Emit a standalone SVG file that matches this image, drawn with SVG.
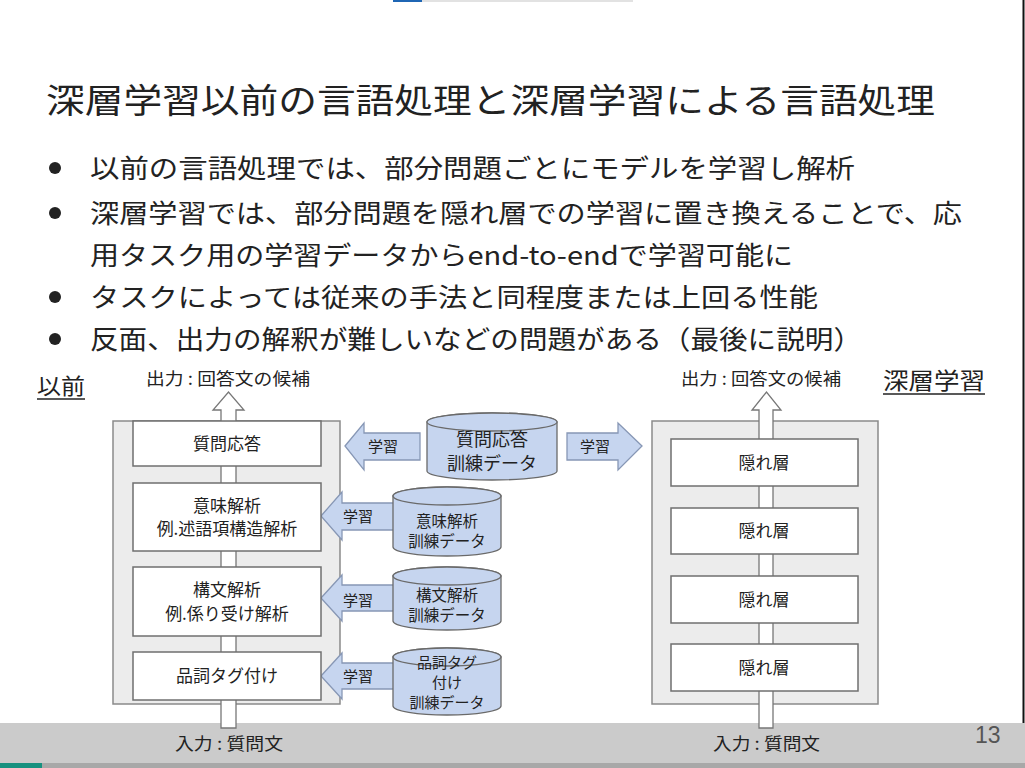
<svg xmlns="http://www.w3.org/2000/svg" width="1025" height="768" viewBox="0 0 1025 768">
<style>
text{font-family:"Noto Sans CJK JP","Noto Sans CJK SC",sans-serif;fill:#222}
.title{font-size:34px}
.bul{font-size:26px}
.lbl{font-size:17px}
.box{fill:#fff;stroke:#6f6f6f;stroke-width:1.5}
.panel{fill:#ececec;stroke:#8a8a8a;stroke-width:1.5}
.bt{font-size:17px;text-anchor:middle}
.cyl{fill:#c6d5ef;stroke:#6a6a6a;stroke-width:1.3}
.ct{font-size:15.5px;text-anchor:middle}
.la{fill:#c6d5ef;stroke:#8797b5;stroke-width:1.3}
.lt{font-size:15px;text-anchor:middle}
.va{fill:#fff;stroke:#777;stroke-width:1.3}
</style>
<rect width="1025" height="768" fill="#fff"/>
<rect x="393" y="0" width="29" height="2" fill="#1f66b4"/>
<rect x="422" y="0" width="211" height="2" fill="#e2e2e2"/>
<line x1="1023.5" y1="0" x2="1023.5" y2="723" stroke="#111" stroke-width="2"/>
<rect x="0" y="723" width="1025" height="40" fill="#cbcbcb"/>
<rect x="0" y="763" width="1025" height="5" fill="#a8a8a8"/>
<rect x="0" y="763" width="42" height="5" fill="#17917f"/>
<text x="975" y="743" style="font-family:'Liberation Sans',sans-serif;font-size:23px;fill:#555">13</text>

<text class="title" x="46" y="113" textLength="889" lengthAdjust="spacingAndGlyphs">深層学習以前の言語処理と深層学習による言語処理</text>
<g id="bullets">
<circle cx="55" cy="168" r="6" fill="#222"/>
<circle cx="55" cy="213" r="6" fill="#222"/>
<circle cx="55" cy="297" r="6" fill="#222"/>
<circle cx="55" cy="339" r="6" fill="#222"/>
<text class="bul" x="90" y="178" textLength="765" lengthAdjust="spacingAndGlyphs">以前の言語処理では、部分問題ごとにモデルを学習し解析</text>
<text class="bul" x="90" y="223" textLength="872" lengthAdjust="spacingAndGlyphs">深層学習では、部分問題を隠れ層での学習に置き換えることで、応</text>
<text class="bul" x="90" y="265" textLength="703" lengthAdjust="spacingAndGlyphs">用タスク用の学習データからend-to-endで学習可能に</text>
<text class="bul" x="90" y="307" textLength="728" lengthAdjust="spacingAndGlyphs">タスクによっては従来の手法と同程度または上回る性能</text>
<text class="bul" x="90" y="349" textLength="772" lengthAdjust="spacingAndGlyphs">反面、出力の解釈が難しいなどの問題がある（最後に説明）</text>
</g>

<g id="heading-before">
<text x="37" y="394" style="font-size:22px" textLength="48" lengthAdjust="spacingAndGlyphs">以前</text>
<line x1="37" y1="399" x2="85" y2="399" stroke="#222" stroke-width="1.5"/>
</g>
<g id="heading-deep">
<text x="883" y="389" style="font-size:23px" textLength="102" lengthAdjust="spacingAndGlyphs">深層学習</text>
<line x1="883" y1="394" x2="985" y2="394" stroke="#222" stroke-width="1.5"/>
</g>

<text class="lbl" x="146" y="385" textLength="164" lengthAdjust="spacingAndGlyphs">出力 : 回答文の候補</text>
<text class="lbl" x="681" y="385" textLength="160" lengthAdjust="spacingAndGlyphs">出力 : 回答文の候補</text>
<text class="lbl" x="175" y="750" textLength="108" lengthAdjust="spacingAndGlyphs">入力 : 質問文</text>
<text class="lbl" x="713" y="750" textLength="107" lengthAdjust="spacingAndGlyphs">入力 : 質問文</text>

<g id="panel-left"><rect class="panel" x="113" y="421" width="227" height="283"/></g>
<g id="panel-right"><rect class="panel" x="652" y="421" width="226" height="283"/></g>

<g id="connectors">
<polygon class="va" points="221,728 221,410 213,410 228.5,392 244,410 236,410 236,728"/>
<polygon class="va" points="759,728 759,410 752,410 766.5,392 781,410 773,410 773,728"/>
<polygon class="la" points="345,446 364,423 364,433 420,433 420,460 364,460 364,470"/>
<polygon class="la" points="642,446 618,423 618,433 567,433 567,460 618,460 618,470"/>
<polygon class="la" points="321,516 342,492 342,503 396,503 396,530 342,530 342,540"/>
<polygon class="la" points="321,598 342,575 342,585 396,585 396,611 342,611 342,621"/>
<polygon class="la" points="321,676 342,653 342,663 396,663 396,689 342,689 342,699"/>
<text class="lt" x="383" y="452">学習</text>
<text class="lt" x="595" y="452">学習</text>
<text class="lt" x="358" y="522">学習</text>
<text class="lt" x="358" y="606">学習</text>
<text class="lt" x="358" y="682">学習</text>
</g>

<g id="box-qa"><rect class="box" x="133" y="421" width="188" height="45"/><text class="bt" x="227" y="450">質問応答</text></g>
<g id="box-sem"><rect class="box" x="133" y="483" width="188" height="68"/><text class="bt" x="227" y="512">意味解析</text><text class="bt" x="227" y="535">例.述語項構造解析</text></g>
<g id="box-syn"><rect class="box" x="133" y="567" width="188" height="69"/><text class="bt" x="227" y="596">構文解析</text><text class="bt" x="227" y="620">例.係り受け解析</text></g>
<g id="box-pos"><rect class="box" x="133" y="652" width="188" height="48"/><text class="bt" x="227" y="682">品詞タグ付け</text></g>

<g id="hidden1"><rect class="box" x="671" y="439" width="187" height="47"/><text class="bt" x="764" y="469">隠れ層</text></g>
<g id="hidden2"><rect class="box" x="671" y="508" width="187" height="46"/><text class="bt" x="764" y="537">隠れ層</text></g>
<g id="hidden3"><rect class="box" x="671" y="576" width="187" height="47"/><text class="bt" x="764" y="606">隠れ層</text></g>
<g id="hidden4"><rect class="box" x="671" y="644" width="187" height="47"/><text class="bt" x="764" y="674">隠れ層</text></g>

<g id="data-qa">
<path class="cyl" d="M427,422 A65,9 0 0 1 557,422 V471 A65,9 0 0 1 427,471 Z"/>
<ellipse class="cyl" cx="492" cy="422" rx="65" ry="9"/>
<text class="ct" x="492" y="446" style="font-size:18px">質問応答</text>
<text class="ct" x="492" y="470" style="font-size:18px">訓練データ</text>
</g>
<g id="data-sem">
<path class="cyl" d="M393,496 A54,9 0 0 1 501,496 V547 A54,9 0 0 1 393,547 Z"/>
<ellipse class="cyl" cx="447" cy="496" rx="54" ry="9"/>
<text class="ct" x="447" y="527">意味解析</text>
<text class="ct" x="447" y="547">訓練データ</text>
</g>
<g id="data-syn">
<path class="cyl" d="M393,576 A54,9 0 0 1 501,576 V621 A54,9 0 0 1 393,621 Z"/>
<ellipse class="cyl" cx="447" cy="576" rx="54" ry="9"/>
<text class="ct" x="447" y="601">構文解析</text>
<text class="ct" x="447" y="621">訓練データ</text>
</g>
<g id="data-pos">
<path class="cyl" d="M393,657 A54,9 0 0 1 501,657 V706 A54,9 0 0 1 393,706 Z"/>
<ellipse class="cyl" cx="447" cy="657" rx="54" ry="9"/>
<text class="ct" x="447" y="668" style="font-size:15px">品詞タグ</text>
<text class="ct" x="447" y="688" style="font-size:15px">付け</text>
<text class="ct" x="447" y="708" style="font-size:15px">訓練データ</text>
</g>
</svg>
